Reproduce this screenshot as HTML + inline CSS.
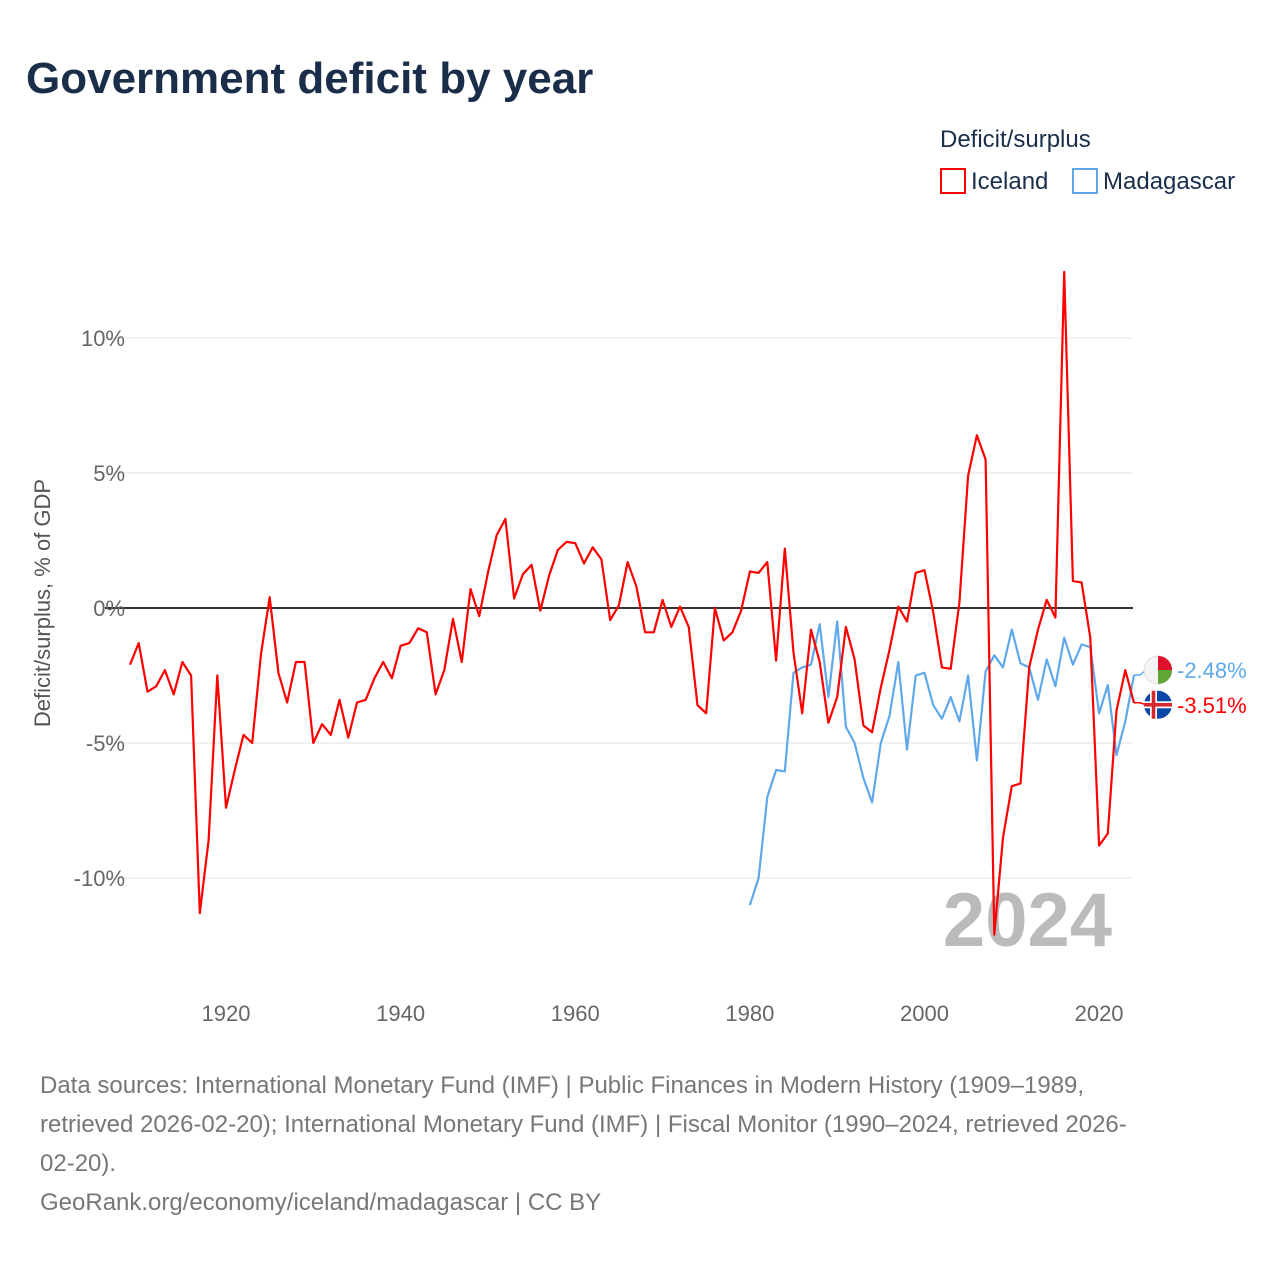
<!DOCTYPE html>
<html><head><meta charset="utf-8"><style>
body{margin:0;background:#fff;font-family:"Liberation Sans",sans-serif;}
#wrap{position:relative;width:1280px;height:1280px;}
</style></head><body>
<div id="wrap">
<svg id="svg" width="1280" height="1280" xmlns="http://www.w3.org/2000/svg">
<text x="26" y="93" font-size="44" font-weight="bold" fill="#1a2e4a">Government deficit by year</text>
<text x="940" y="147" font-size="24" fill="#1a2e4a">Deficit/surplus</text>
<g><rect x="941" y="169" width="24" height="24" fill="none" stroke="#ff0000" stroke-width="2"/><text x="971" y="189" font-size="24" fill="#1a2e4a">Iceland</text></g>
<g><rect x="1073" y="169" width="24" height="24" fill="none" stroke="#5fa8ea" stroke-width="2"/><text x="1103" y="189" font-size="24" fill="#1a2e4a">Madagascar</text></g>
<text transform="translate(50,603) rotate(-90)" text-anchor="middle" font-size="22" fill="#555">Deficit/surplus, % of GDP</text>
<g id="grid"></g><g id="xt"></g>
<text x="1112" y="946" text-anchor="end" font-size="76" font-weight="bold" fill="#bbb">2024</text>
<g id="series"></g>
<text x="40" y="1093" font-size="24" fill="#777">Data sources: International Monetary Fund (IMF) | Public Finances in Modern History (1909–1989,</text>
<text x="40" y="1132" font-size="24" fill="#777">retrieved 2026-02-20); International Monetary Fund (IMF) | Fiscal Monitor (1990–2024, retrieved 2026-</text>
<text x="40" y="1171" font-size="24" fill="#777">02-20).</text>
<text x="40" y="1210" font-size="24" fill="#777">GeoRank.org/economy/iceland/madagascar | CC BY</text>
</svg></div>
<script>
const iceStart=1909;
const iceland=[-2.1,-1.3,-3.1,-2.9,-2.3,-3.2,-2.0,-2.5,-11.3,-8.6,-2.5,-7.4,-6.0,-4.7,-5.0,-1.7,0.4,-2.4,-3.5,-2.0,-2.0,-5.0,-4.3,-4.7,-3.4,-4.8,-3.5,-3.4,-2.6,-2.0,-2.6,-1.4,-1.3,-0.75,-0.9,-3.2,-2.3,-0.4,-2.0,0.7,-0.3,1.3,2.7,3.3,0.35,1.25,1.6,-0.1,1.2,2.15,2.45,2.4,1.65,2.25,1.8,-0.45,0.1,1.7,0.8,-0.9,-0.9,0.3,-0.7,0.05,-0.7,-3.6,-3.9,0,-1.2,-0.9,-0.1,1.35,1.3,1.7,-1.95,2.2,-1.65,-3.9,-0.8,-2.0,-4.25,-3.3,-0.7,-1.9,-4.35,-4.6,-2.95,-1.55,0.05,-0.5,1.3,1.4,-0.15,-2.2,-2.25,0.2,4.9,6.4,5.5,-12.1,-8.5,-6.6,-6.5,-2.2,-0.8,0.3,-0.35,12.45,1.0,0.95,-1.1,-8.8,-8.35,-3.8,-2.3,-3.51];
const madStart=1980;
const madagascar=[-11.0,-10.0,-7.0,-6.0,-6.05,-2.4,-2.2,-2.1,-0.6,-3.3,-0.5,-4.4,-5.0,-6.3,-7.2,-5.0,-4.0,-2.0,-5.25,-2.5,-2.4,-3.6,-4.1,-3.3,-4.2,-2.5,-5.65,-2.35,-1.75,-2.2,-0.8,-2.05,-2.2,-3.4,-1.9,-2.9,-1.1,-2.1,-1.35,-1.45,-3.9,-2.85,-5.45,-4.2,-2.48];
const yTicks=[10,5,0,-5,-10];
const yTickLabels=["10%","5%","0%","-5%","-10%"];
const xTicks=[1920,1940,1960,1980,2000,2020];
const NS='http://www.w3.org/2000/svg';
const X=yr=>130+(yr-1909)*(1134-130)/(2024-1909);
const Y=v=>608-v*27;
function mk(t,a,p){const e=document.createElementNS(NS,t);for(const k in a)e.setAttribute(k,a[k]);p.appendChild(e);return e;}
const grid=document.getElementById('grid');
yTicks.forEach((v,i)=>{
 const l=mk('line',{x1:105,x2:1133,y1:Y(v),y2:Y(v),stroke:v===0?'#333':'#e3e3e3','stroke-width':v===0?2:1},grid);
 
 
 const t=mk('text',{x:125,y:Y(v)+8,'text-anchor':'end','font-size':22,fill:'#666'},grid);
 t.textContent=yTickLabels[i];
 
 
});
const xt=document.getElementById('xt');
xTicks.forEach(yr=>{
 const t=mk('text',{x:X(yr),y:1021,'text-anchor':'middle','font-size':22,fill:'#666'},xt);
 t.textContent=yr;
 
 
});
const sg=document.getElementById('series');
function line(vals,start,color,name){
 const pts=vals.map((v,i)=>X(start+i).toFixed(1)+','+Y(v).toFixed(1)).join(' ');
 const p=mk('polyline',{points:pts,fill:'none',stroke:color,'stroke-width':2.2,'stroke-linejoin':'round'},sg);
 
 
}
line(madagascar,madStart,'#5fa8ea','line-madagascar');
line(iceland,iceStart,'#ff0000','line-iceland');
function endLabel(v,color,name,flag,off){
 const y0=Y(v), y=y0+off;
 const c=mk('polyline',{points:`1134,${y0} 1140,${y0} 1146,${y}`,fill:'none',stroke:color,'stroke-width':1.5},sg);
 
 
 const g=mk('g',{},sg);
 
 
 if(flag==='mg'){
  mk('circle',{cx:1158,cy:y,r:14,fill:'#f4f4f4',stroke:'#ddd'},g);
  mk('path',{d:`M1158 ${y-14} A14 14 0 0 1 1172 ${y} L1158 ${y} Z`,fill:'#e0102b'},g);
  mk('path',{d:`M1158 ${y} L1172 ${y} A14 14 0 0 1 1158 ${y+14} Z`,fill:'#5ea636'},g);
 }else{
  mk('circle',{cx:1158,cy:y,r:14,fill:'#0a48a8'},g);
  mk('rect',{x:1144,y:y-3.5,width:28,height:7,fill:'#fff'},g);
  mk('rect',{x:1150,y:y-14,width:7,height:28,fill:'#fff'},g);
  mk('rect',{x:1144,y:y-1.8,width:28,height:3.6,fill:'#d7282f'},g);
  mk('rect',{x:1151.7,y:y-14,width:3.6,height:28,fill:'#d7282f'},g);
 }
 const t=mk('text',{x:1177,y:y+8,'font-size':22,fill:color},sg);
 t.textContent=v.toFixed(2)+'%';
 
 
}
endLabel(madagascar[madagascar.length-1],'#5fa8ea','madagascar-end','mg',-5);
endLabel(iceland[iceland.length-1],'#ff0000','iceland-end','is',2);
</script>
</body></html>
